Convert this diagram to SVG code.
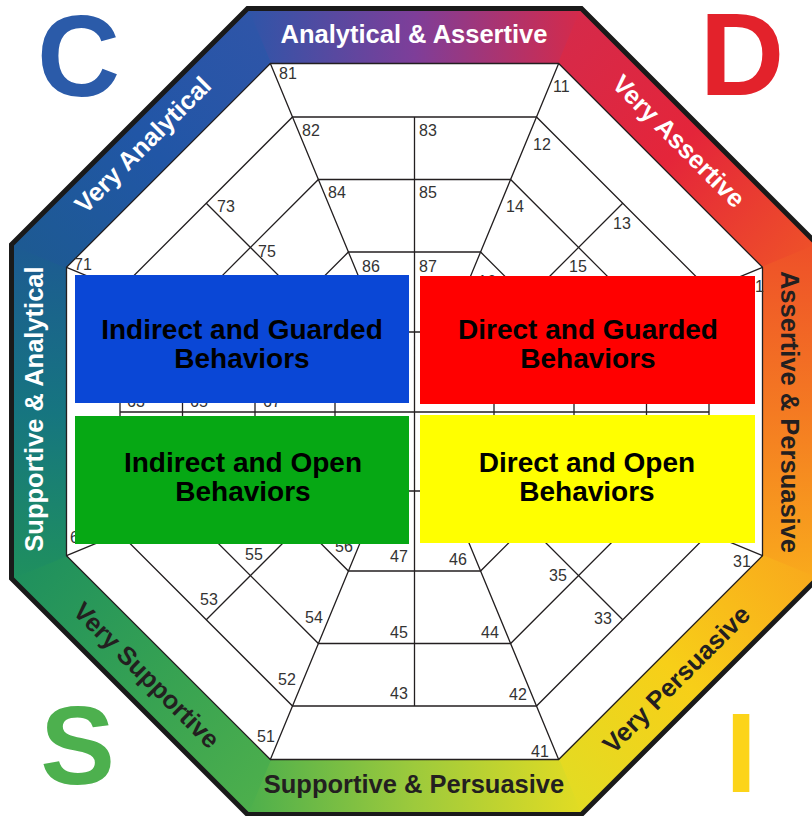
<svg xmlns="http://www.w3.org/2000/svg" width="812" height="816" viewBox="0 0 812 816">
<defs>
<style>
.grid{fill:none;stroke:#231f20;stroke-width:1.3}
.num{font-family:"Liberation Sans",Arial,sans-serif;font-size:16px;fill:#333}
.bl{font-family:"Liberation Sans",Arial,sans-serif;font-weight:bold;font-size:25.5px;text-anchor:middle}
.w{fill:#fff}
.k{fill:#231f20}
.bx{font-family:"Liberation Sans",Arial,sans-serif;font-weight:bold;font-size:28px;text-anchor:middle;fill:#000}
.big{font-family:"Liberation Sans",Arial,sans-serif;font-weight:bold;text-anchor:middle}
</style>
<linearGradient id="gT" gradientUnits="userSpaceOnUse" x1="-166.93" y1="-403" x2="166.93" y2="-403"><stop offset="0" stop-color="#2f55a8"/><stop offset="0.5" stop-color="#7e3e99"/><stop offset="1" stop-color="#d52a4a"/></linearGradient>
<linearGradient id="gTR" gradientUnits="userSpaceOnUse" x1="166.93" y1="-403" x2="403" y2="-166.93"><stop offset="0" stop-color="#d52a4a"/><stop offset="0.5" stop-color="#e4253a"/><stop offset="1" stop-color="#ee5029"/></linearGradient>
<linearGradient id="gR" gradientUnits="userSpaceOnUse" x1="403" y1="-166.93" x2="403" y2="166.93"><stop offset="0" stop-color="#ee5029"/><stop offset="0.5" stop-color="#f47a22"/><stop offset="1" stop-color="#f9aa1c"/></linearGradient>
<linearGradient id="gBR" gradientUnits="userSpaceOnUse" x1="403" y1="166.93" x2="166.93" y2="403"><stop offset="0" stop-color="#f9aa1c"/><stop offset="0.5" stop-color="#f7cf18"/><stop offset="1" stop-color="#e2dc23"/></linearGradient>
<linearGradient id="gB" gradientUnits="userSpaceOnUse" x1="166.93" y1="403" x2="-166.93" y2="403"><stop offset="0" stop-color="#e2dc23"/><stop offset="0.5" stop-color="#9dca3c"/><stop offset="1" stop-color="#4daf4c"/></linearGradient>
<linearGradient id="gBL" gradientUnits="userSpaceOnUse" x1="-166.93" y1="403" x2="-403" y2="166.93"><stop offset="0" stop-color="#4daf4c"/><stop offset="0.5" stop-color="#35a153"/><stop offset="1" stop-color="#1f905e"/></linearGradient>
<linearGradient id="gL" gradientUnits="userSpaceOnUse" x1="-403" y1="166.93" x2="-403" y2="-166.93"><stop offset="0" stop-color="#1f905e"/><stop offset="0.5" stop-color="#167580"/><stop offset="1" stop-color="#1d5a92"/></linearGradient>
<linearGradient id="gTL" gradientUnits="userSpaceOnUse" x1="-403" y1="-166.93" x2="-166.93" y2="-403"><stop offset="0" stop-color="#1d5a92"/><stop offset="0.5" stop-color="#2156a6"/><stop offset="1" stop-color="#2f55a8"/></linearGradient>
</defs>
<rect width="812" height="816" fill="#fff"/>

<g id="band" transform="translate(414.5,411.5)">
<polygon points="0,0 -166.93,-403 166.93,-403" fill="url(#gT)" stroke="url(#gT)" stroke-width="1.5"/>
<polygon points="0,0 166.93,-403 403,-166.93" fill="url(#gTR)" stroke="url(#gTR)" stroke-width="1.5"/>
<polygon points="0,0 403,-166.93 403,166.93" fill="url(#gR)" stroke="url(#gR)" stroke-width="1.5"/>
<polygon points="0,0 403,166.93 166.93,403" fill="url(#gBR)" stroke="url(#gBR)" stroke-width="1.5"/>
<polygon points="0,0 166.93,403 -166.93,403" fill="url(#gB)" stroke="url(#gB)" stroke-width="1.5"/>
<polygon points="0,0 -166.93,403 -403,166.93" fill="url(#gBL)" stroke="url(#gBL)" stroke-width="1.5"/>
<polygon points="0,0 -403,166.93 -403,-166.93" fill="url(#gL)" stroke="url(#gL)" stroke-width="1.5"/>
<polygon points="0,0 -403,-166.93 -166.93,-403" fill="url(#gTL)" stroke="url(#gTL)" stroke-width="1.5"/>
<polygon points="-166.93,-403 166.93,-403 403,-166.93 403,166.93 166.93,403 -166.93,403 -403,166.93 -403,-166.93" fill="none" stroke="#1a1a1a" stroke-width="5"/>
</g>

<g id="grid" transform="translate(414.5,411.5)">
<polygon points="-144.15,-348 144.15,-348 348,-144.15 348,144.15 144.15,348 -144.15,348 -348,144.15 -348,-144.15" fill="#fff" stroke="#231f20" stroke-width="1.3"/>
<polygon class="grid" points="-121.99,-294.5 121.99,-294.5 294.5,-121.99 294.5,121.99 121.99,294.5 -121.99,294.5 -294.5,121.99 -294.5,-121.99"/>
<polygon class="grid" points="-96.1,-232 96.1,-232 232,-96.1 232,96.1 96.1,232 -96.1,232 -232,96.1 -232,-96.1"/>
<polygon class="grid" points="-66.07,-159.5 66.07,-159.5 159.5,-66.07 159.5,66.07 66.07,159.5 -66.07,159.5 -159.5,66.07 -159.5,-66.07"/>
<polygon class="grid" points="-32.93,-79.5 32.93,-79.5 79.5,-32.93 79.5,32.93 32.93,79.5 -32.93,79.5 -79.5,32.93 -79.5,-32.93"/>
<path class="grid" d="M-144.15,-348L-32.93,-79.5M144.15,-348L32.93,-79.5M348,-144.15L79.5,-32.93M348,144.15L79.5,32.93M144.15,348L32.93,79.5M-144.15,348L-32.93,79.5M-348,144.15L-79.5,32.93M-348,-144.15L-79.5,-32.93M0,-294.5L0,294.5M-294.5,0.5L294.5,0.5M-208.24,-208.24L-56.22,-56.22M208.24,-208.24L56.22,-56.22M208.24,208.24L56.22,56.22M-208.24,208.24L-56.22,56.22"/>
</g>

<g id="numbers" class="num">
<text x="279" y="79">81</text>
<text x="302" y="136">82</text>
<text x="419" y="136">83</text>
<text x="328" y="198">84</text>
<text x="419" y="198">85</text>
<text x="362" y="272">86</text>
<text x="419" y="272">87</text>
<text x="74" y="270">71</text>
<text x="217" y="212">73</text>
<text x="258" y="257">75</text>
<text x="553" y="92">11</text>
<text x="533" y="150">12</text>
<text x="613" y="229">13</text>
<text x="506" y="212">14</text>
<text x="569" y="272">15</text>
<text x="478" y="287">16</text>
<text x="746" y="292">21</text>
<text x="733" y="567">31</text>
<text x="594" y="624">33</text>
<text x="549" y="581">35</text>
<text x="531" y="757">41</text>
<text x="509" y="700">42</text>
<text x="390" y="699">43</text>
<text x="481" y="638">44</text>
<text x="390" y="638">45</text>
<text x="449" y="565">46</text>
<text x="390" y="562">47</text>
<text x="257" y="742">51</text>
<text x="278" y="685">52</text>
<text x="200" y="605">53</text>
<text x="305" y="623">54</text>
<text x="245" y="560">55</text>
<text x="335" y="552">56</text>
<text x="70" y="543">61</text>
<text x="127" y="407">63</text>
<text x="190" y="407">65</text>
<text x="263" y="407">67</text>
</g>

<g id="box-indirect-guarded">
<rect x="75" y="275" width="334" height="128" fill="#0a47d6"/>
<text class="bx" x="242" y="339">Indirect and Guarded</text>
<text class="bx" x="242" y="368">Behaviors</text>
</g>
<g id="box-direct-guarded">
<rect x="420" y="276" width="335" height="128" fill="#ff0000"/>
<text class="bx" x="588" y="339">Direct and Guarded</text>
<text class="bx" x="588" y="368">Behaviors</text>
</g>
<g id="box-indirect-open">
<rect x="75" y="416" width="334" height="128" fill="#06a814"/>
<text class="bx" x="243" y="472">Indirect and Open</text>
<text class="bx" x="243" y="501">Behaviors</text>
</g>
<g id="box-direct-open">
<rect x="420" y="415" width="335" height="128" fill="#ffff00"/>
<text class="bx" x="587" y="472">Direct and Open</text>
<text class="bx" x="587" y="501">Behaviors</text>
</g>

<g id="band-labels">
<text class="bl w" x="414" y="43">Analytical &amp; Assertive</text>
<text class="bl w" transform="translate(149,151) rotate(-45)">Very Analytical</text>
<text class="bl w" transform="translate(672.6,147.4) rotate(45)">Very Assertive</text>
<text class="bl k" transform="translate(781,412) rotate(90)">Assertive &amp; Persuasive</text>
<text class="bl k" transform="translate(682.5,685.5) rotate(-45)">Very Persuasive</text>
<text class="bl k" x="414" y="793">Supportive &amp; Persuasive</text>
<text class="bl k" transform="translate(140.5,681.5) rotate(45)">Very Supportive</text>
<text class="bl w" transform="translate(43,409) rotate(-90)">Supportive &amp; Analytical</text>
</g>

<g id="corner-letters">
<text class="big" x="78.5" y="96" font-size="115" fill="#2b5ba9">C</text>
<text class="big" x="742" y="95" font-size="117" fill="#e3222b">D</text>
<text class="big" x="77.5" y="784" font-size="112" fill="#4db04e">S</text>
<text class="big" x="741" y="792" font-size="114" fill="#fcd419">I</text>
</g>
</svg>
